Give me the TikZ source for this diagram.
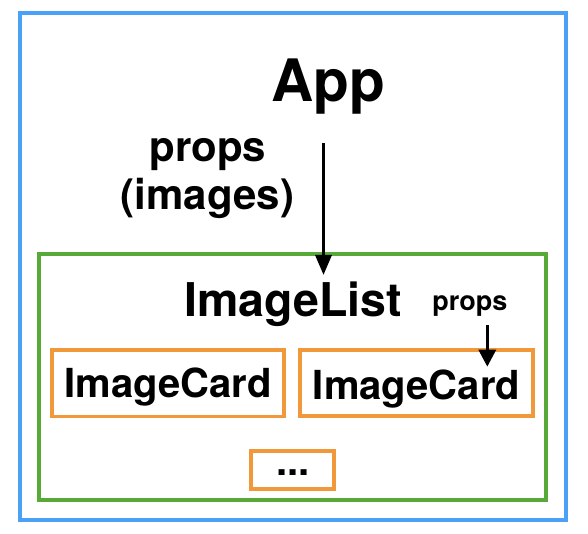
\documentclass[tikz,border=0pt]{standalone}
\usepackage{fontspec}
\setmainfont{TeX Gyre Heros}
\usetikzlibrary{arrows.meta}
\definecolor{appblue}{RGB}{74,161,245}
\definecolor{listgreen}{RGB}{88,170,56}
\definecolor{cardorange}{RGB}{240,152,58}
\tikzset{
  frame/.style 2 args={draw, inner sep=0pt, minimum width=#1, minimum height=#2},
  appframe/.style={draw=appblue, line width=4pt},
  listframe/.style={draw=listgreen, line width=3.3pt},
  cardframe/.style={draw=cardorange, line width=3.3pt},
  lbl/.style={inner sep=0pt, font=\bfseries\fontsize{#1}{#1}\selectfont},
  flow/.style={line width=3.3pt},
}
\begin{document}
\begin{tikzpicture}[x=1pt,y=-1pt]
\useasboundingbox (0,0) rectangle (588,534);
% containers
\node[frame={546pt}{507pt}, appframe] (appbox) at (293,266.5) {};
\node[frame={507pt}{246pt}, listframe] (listbox) at (292.5,377) {};
\node[frame={232pt}{66.5pt}, cardframe, text height=29pt, text depth=0pt,
      font=\bfseries\fontsize{40}{40}\selectfont] (card1) at (168,383.25) {ImageCard};
\node[frame={233pt}{66pt}, cardframe, text height=32pt, text depth=0pt,
      font=\bfseries\fontsize{40}{40}\selectfont] (card2) at (416.5,383) {ImageCard};
\node[frame={83pt}{38pt}, cardframe] (morebox) at (292.5,470) {};
% labels
\node[lbl=58.5, anchor=base] (app) at (328.4,101.7) {App};
\node[lbl=42, anchor=base] (propsA) at (208,161.5) {props};
\node[lbl=42, anchor=base] (propsB) at (207.5,210) {(images)};
\node[lbl=46.5, anchor=base] (imagelist) at (293.4,316.7) {ImageList};
\node[lbl=27, anchor=base] (propsC) at (469.8,310.7) {props};
\node[lbl=40, anchor=base] (dots) at (293,475) {...};
% connectors
\coordinate (a1s) at (323.5,143);
\coordinate (a1e) at (323.5,275);
\coordinate (a2s) at (487.3,325);
\coordinate (a2e) at (487.3,366.7);
\draw[flow, -{Triangle[width=16pt,length=20pt]}] (a1s) -- (a1e);
\draw[flow, -{Triangle[width=17pt,length=17pt]}] (a2s) -- (a2e);
\end{tikzpicture}
\end{document}
